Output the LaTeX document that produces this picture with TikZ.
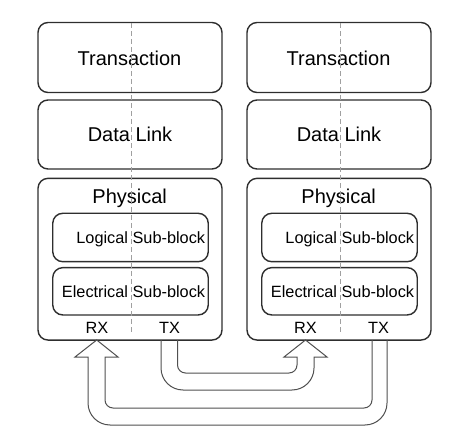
\documentclass[tikz,border=0pt]{standalone}
\usepackage{fontspec}
\setmainfont{Liberation Sans}
\definecolor{boxline}{HTML}{2E2E2E}
\definecolor{midline}{HTML}{A0A0A0}
\definecolor{pipeline}{HTML}{505050}
\tikzset{
  layer/.style = {draw = boxline, line width = 1.4pt, rounded corners = 10pt,
                  minimum width = 184pt, inner sep = 0pt},
  subblock/.style = {draw = boxline, line width = 1.4pt, rounded corners = 10pt,
                     minimum width = 155.5pt, inner sep = 0pt},
  bigtext/.style = {font = \fontsize{20}{24}\selectfont, text = black, inner sep = 0pt},
  smalltext/.style = {font = \fontsize{16.3}{19}\selectfont, text = black, inner sep = 0pt},
  pipe/.style = {draw = pipeline, line width = 1pt, line join = miter}
}
\begin{document}
\begin{tikzpicture}[x = 1pt, y = -1pt]
  \useasboundingbox (0, 0) rectangle (468, 435);
  % left stack
  \node [layer, minimum height = 70pt] (trans1) at (130, 57.5) {};
  \node [layer, minimum height = 69pt] (link1) at (130, 134.5) {};
  \node [layer, minimum height = 161.7pt] (phy1) at (130, 259.2) {};
  \node [subblock, minimum height = 48.4pt] (log1) at (130.5, 237.5) {};
  \node [subblock, minimum height = 47.3pt] (elec1) at (130.5, 291.3) {};
  \node [bigtext, anchor = base] (transtext1) at (129.5, 66) {Transaction};
  \node [bigtext, anchor = base] (linktext1) at (130, 141.7) {Data Link};
  \node [bigtext, anchor = base] (phytext1) at (129.7, 203.3) {Physical};
  \node [smalltext, anchor = base east] (logtext1) at (205.3, 244) {Logical Sub-block};
  \node [smalltext, anchor = base east] (electext1) at (205.3, 297.5) {Electrical Sub-block};
  \node [smalltext, anchor = base] (rx1) at (97, 333.3) {RX};
  \node [smalltext, anchor = base] (tx1) at (169.5, 333.3) {TX};
  \draw [midline, line width = 1.7pt, dash pattern = on 5pt off 3pt] (131.5, 23) -- (131.5, 334);
  % right stack
  \node [layer, minimum height = 70pt] (trans2) at (339, 57.5) {};
  \node [layer, minimum height = 69pt] (link2) at (339, 134.5) {};
  \node [layer, minimum height = 161.7pt] (phy2) at (339, 259.2) {};
  \node [subblock, minimum height = 48.4pt] (log2) at (339.5, 237.5) {};
  \node [subblock, minimum height = 47.3pt] (elec2) at (339.5, 291.3) {};
  \node [bigtext, anchor = base] (transtext2) at (338.5, 66) {Transaction};
  \node [bigtext, anchor = base] (linktext2) at (339, 141.7) {Data Link};
  \node [bigtext, anchor = base] (phytext2) at (338.7, 203.3) {Physical};
  \node [smalltext, anchor = base east] (logtext2) at (414.3, 244) {Logical Sub-block};
  \node [smalltext, anchor = base east] (electext2) at (414.3, 297.5) {Electrical Sub-block};
  \node [smalltext, anchor = base] (rx2) at (305.5, 333.3) {RX};
  \node [smalltext, anchor = base] (tx2) at (378.5, 333.3) {TX};
  \draw [midline, line width = 1.7pt, dash pattern = on 5pt off 3pt] (340.5, 23) -- (340.5, 334);
  % TX of left stack to RX of right stack
  \draw [pipe] (177.5, 340) [rounded corners = 8pt] -- (177.5, 373) -- (297, 373)
    [sharp corners] -- (297, 357) -- (284, 357) -- (305.5, 340) -- (327, 357) -- (314, 357)
    [rounded corners = 22pt] -- (314, 390) -- (161, 390) [sharp corners] -- (161, 340);
  % TX of right stack to RX of left stack
  \draw [pipe] (372, 340) [rounded corners = 8pt] -- (372, 408) -- (105, 408)
    [sharp corners] -- (105, 357) -- (118, 357) -- (96.7, 340) -- (75, 357) -- (88, 357)
    [rounded corners = 22pt] -- (88, 425) -- (387, 425) [sharp corners] -- (387, 340);
\end{tikzpicture}
\end{document}
